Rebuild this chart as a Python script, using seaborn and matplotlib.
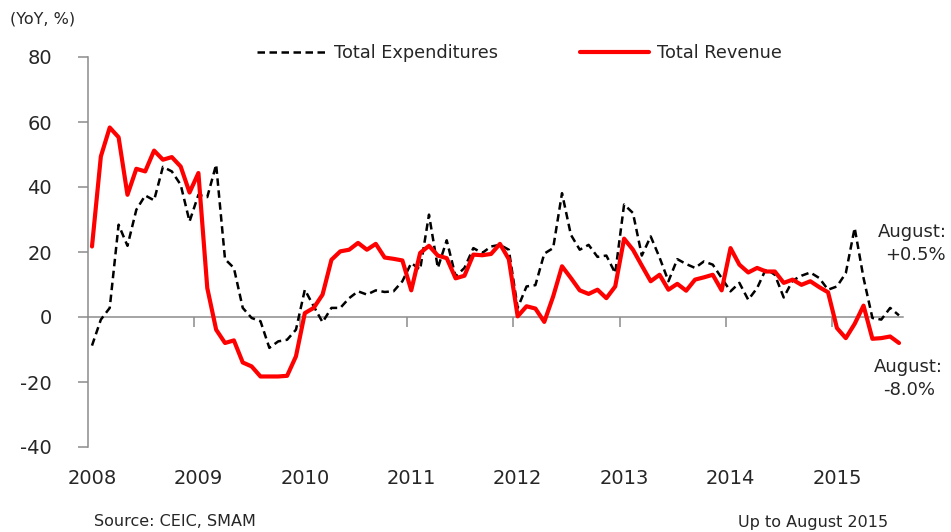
import numpy as np
import pandas as pd
import matplotlib
matplotlib.use("Agg")
import matplotlib.pyplot as plt
import seaborn as sns

# ---- data (YoY %, monthly Jan 2008 - Aug 2015) ----
months = pd.date_range("2008-01-01", periods=92, freq="MS")
years = ["2008", "2009", "2010", "2011", "2012", "2013", "2014", "2015"]

expenditures = [
    -8.8, -0.8, 2.8, 28.4, 21.9, 33.0, 37.4, 35.9, 46.2, 44.8, 40.7, 29.4,
    37.6, 36.9, 46.9, 17.8, 15.1, 2.8, -0.3, -1.3, -9.5, -7.5, -7.0, -3.9,
    8.4, 3.3, -1.6, 2.8, 2.8, 5.8, 7.9, 6.9, 8.2, 7.7, 7.9, 11.0,
    16.6, 14.6, 31.5, 15.1, 23.6, 12.5, 15.1, 21.2, 19.7, 21.7, 22.2, 20.7,
    2.8, 9.4, 9.8, 19.5, 21.2, 38.1, 25.3, 20.7, 22.2, 18.5, 18.9, 13.5,
    34.6, 32.0, 18.9, 24.8, 18.3, 11.0, 17.8, 16.3, 15.1, 17.1, 16.1, 12.0,
    7.9, 10.5, 5.3, 8.9, 14.8, 13.0, 6.0, 11.2, 12.7, 13.7, 12.0, 8.4,
    9.4, 13.5, 27.4, 12.0, -0.3, -0.8, 2.8, 0.5,
]
revenue = [
    21.7, 49.4, 58.3, 55.3, 37.6, 45.6, 44.8, 51.2, 48.4, 49.2, 46.3, 38.3,
    44.3, 8.9, -3.9, -8.0, -7.2, -14.0, -15.2, -18.3, -18.3, -18.3, -18.1, -12.1,
    1.2, 2.8, 6.9, 17.6, 20.2, 20.7, 22.8, 20.7, 22.5, 18.3, 17.9, 17.4,
    8.2, 19.7, 21.9, 18.9, 18.1, 11.9, 12.7, 19.2, 19.0, 19.4, 22.5, 17.8,
    0.2, 3.3, 2.6, -1.5, 6.3, 15.6, 12.0, 8.2, 7.1, 8.4, 5.8, 9.4,
    24.1, 20.7, 15.8, 11.0, 13.0, 8.4, 10.2, 8.1, 11.5, 12.2, 13.0, 8.2,
    21.2, 16.1, 13.7, 15.1, 14.0, 14.0, 10.5, 11.5, 9.9, 11.0, 9.2, 7.6,
    -3.4, -6.5, -2.1, 3.5, -6.7, -6.5, -6.0, -8.0,
]
yticks = [-40, -20, 0, 20, 40, 60, 80]

df = pd.DataFrame({
    "month": months,
    "idx": np.arange(len(months)),
    "Total Expenditures": expenditures,
    "Total Revenue": revenue,
})

# ---- style ----
sns.set_style("white")
plt.rcParams["font.family"] = ["DejaVu Sans"]
TXT = "#262626"
GRAY = "#8c8c8c"

fig = plt.figure(figsize=(9.51, 5.32), dpi=100)
ax = fig.add_axes([88 / 951, 1 - 447 / 532, (903 - 88) / 951, 390 / 532])

sns.lineplot(data=df, x="idx", y="Total Expenditures", ax=ax, color="black",
             linewidth=1.8, dashes=False, label="Total Expenditures", zorder=3)
sns.lineplot(data=df, x="idx", y="Total Revenue", ax=ax, color="#ff0000",
             linewidth=3.0, label="Total Revenue", zorder=4)
ax.lines[0].set_dashes((3.0, 1.8))

ax.set_xlim(-0.45, len(months) - 0.55)
ax.set_ylim(-40, 80)
ax.set_xlabel("")
ax.set_ylabel("")

# spines
for s in ["top", "right"]:
    ax.spines[s].set_visible(False)
ax.spines["left"].set_color(GRAY)
ax.spines["left"].set_linewidth(1.1)
ax.spines["bottom"].set_position(("data", 0))
ax.spines["bottom"].set_color(GRAY)
ax.spines["bottom"].set_linewidth(1.1)
ax.spines["bottom"].set_zorder(1)

ax.set_yticks(yticks)
ax.set_yticklabels([str(v) for v in yticks])
ax.tick_params(axis="y", direction="out", length=7, width=1.1, color=GRAY,
               labelsize=14, labelcolor=TXT, pad=19, left=True)

# x ticks at year boundaries, labels at January of each year
boundaries = [12 * k - 0.5 for k in range(1, len(years))]
ax.set_xticks(boundaries)
ax.set_xticklabels([])
ax.tick_params(axis="x", direction="out", length=7, width=1.1, color=GRAY,
               bottom=True)
for k, yr in enumerate(years):
    ax.text(12 * k, -0.08, yr, transform=ax.get_xaxis_transform(),
            ha="center", va="center", fontsize=14, color=TXT)

# legend
leg = ax.legend(loc="center left", bbox_to_anchor=(257 / 951, 1 - 53 / 532),
                bbox_transform=fig.transFigure, ncol=2, frameon=False,
                fontsize=12.8, handlelength=3.9, handletextpad=0.45,
                columnspacing=4.6, borderpad=0, borderaxespad=0)
for t in leg.get_texts():
    t.set_color(TXT)

# texts
fig.text(10 / 951, 1 - 19 / 532, "(YoY, %)", fontsize=11.5, color=TXT,
         ha="left", va="center")
fig.text(94 / 951, 1 - 522 / 532, "Source: CEIC, SMAM", fontsize=11.5,
         color=TXT, ha="left", va="center")
fig.text(888 / 951, 1 - 522 / 532, "Up to August 2015", fontsize=11.5,
         color=TXT, ha="right", va="center")
fig.text(912 / 951, 1 - 232 / 532, "August:", fontsize=13, color=TXT,
         ha="center", va="center")
fig.text(915 / 951, 1 - 255 / 532, "+0.5%", fontsize=13, color=TXT,
         ha="center", va="center")
fig.text(908 / 951, 1 - 367 / 532, "August:", fontsize=13, color=TXT,
         ha="center", va="center")
fig.text(909 / 951, 1 - 390 / 532, "-8.0%", fontsize=13, color=TXT,
         ha="center", va="center")

fig.savefig("out.png", dpi=100)
